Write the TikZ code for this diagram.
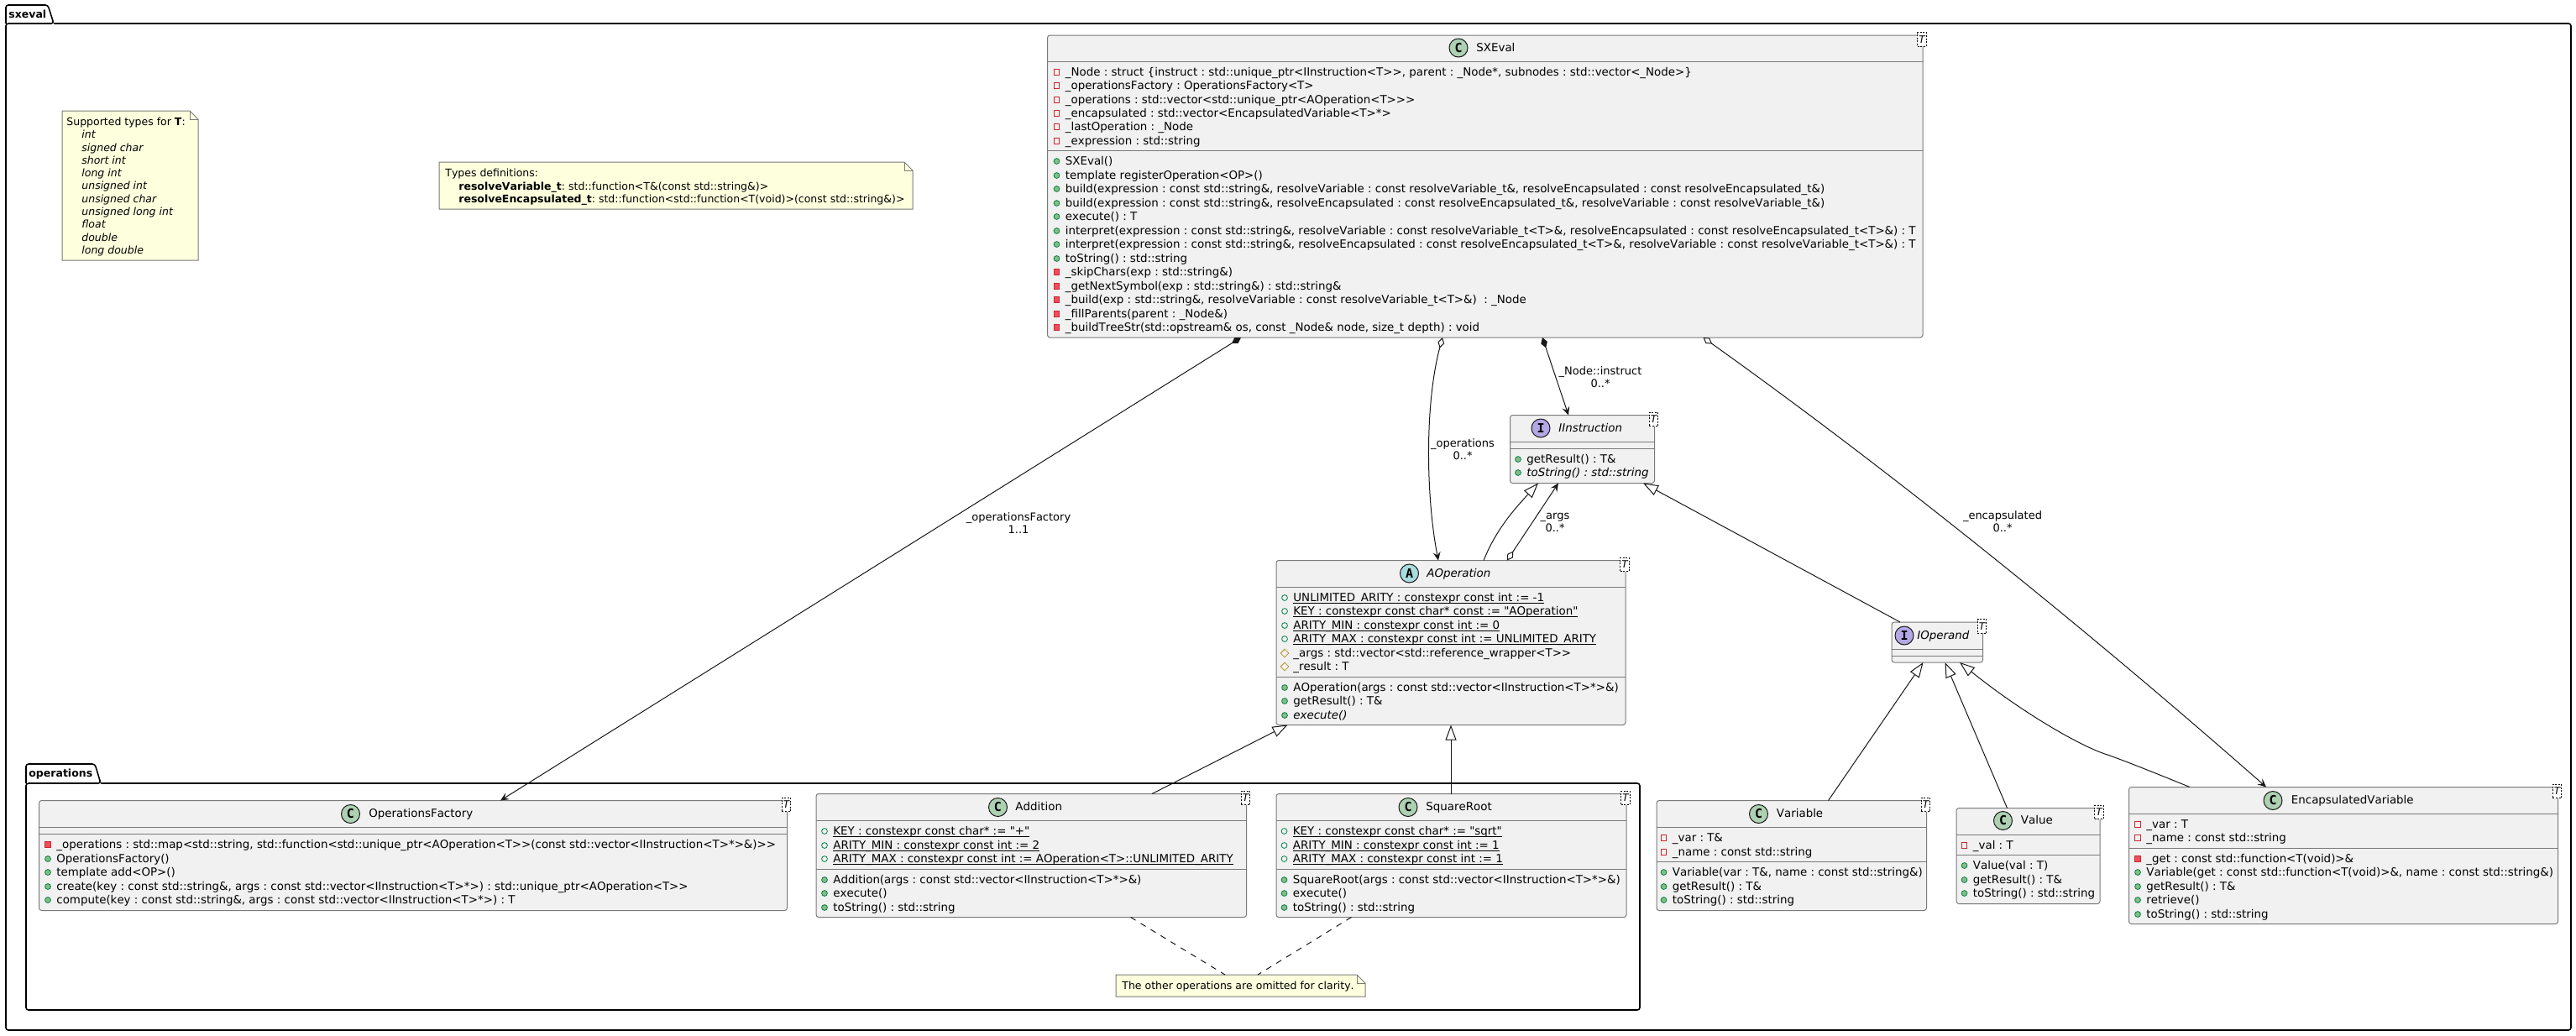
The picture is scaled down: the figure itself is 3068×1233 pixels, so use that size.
\documentclass[tikz,border=0pt]{standalone}
\usepackage{fontspec}
\newfontfamily\umlfont{DejaVu Sans}[Kerning=Off]
\newfontfamily\iconfont{DejaVu Sans Mono}
\usetikzlibrary{arrows.meta,calc,fit,shapes.geometric}

\definecolor{boxfill}{HTML}{F1F1F1}
\definecolor{boxline}{HTML}{7A7A7A}
\definecolor{edgeline}{HTML}{181818}
\definecolor{notefill}{HTML}{FEFFDD}
\definecolor{iconC}{HTML}{ADD1B2}
\definecolor{iconI}{HTML}{B4A7E5}
\definecolor{iconA}{HTML}{A9DCDF}
\definecolor{privline}{HTML}{C82930}
\definecolor{privfill}{HTML}{F24D5C}
\definecolor{publine}{HTML}{038048}
\definecolor{pubfill}{HTML}{84BE84}
\definecolor{protline}{HTML}{B38D22}

\tikzset{
  classbox/.style={draw=boxline,fill=boxfill,line width=.5pt,rounded corners=1.5pt,inner sep=0pt,outer sep=0pt},
  divider/.style={draw=boxline,line width=.5pt},
  tparam/.style={draw=black,fill=white,line width=.4pt,dash pattern=on 1pt off .8pt,minimum width=5.2pt,minimum height=8.2pt,inner sep=0pt,font=\umlfont\itshape\fontsize{6}{7}\selectfont},
  classicon/.style={circle,draw=edgeline,line width=.5pt,minimum size=11pt,inner sep=0pt,font=\iconfont\bfseries\fontsize{7.5}{8}\selectfont},
  titletext/.style={anchor=west,inner sep=0pt,text height=5.5pt,text depth=1.5pt,font=\umlfont\fontsize{6.7}{8}\selectfont\frenchspacing},
  rowtext/.style={anchor=west,inner sep=0pt,text height=5.5pt,text depth=1.5pt,font=\umlfont\fontsize{6.7}{8}\selectfont\frenchspacing},
  notetext/.style={anchor=west,inner sep=0pt,text height=5pt,text depth=1.5pt,font=\umlfont\fontsize{6.25}{7.5}\selectfont\frenchspacing},
  edgelabel/.style={align=center,inner sep=0pt,font=\umlfont\fontsize{6.5}{7.5}\selectfont},
  pkglabel/.style={anchor=west,inner sep=0pt,text height=5.5pt,text depth=1.5pt,font=\umlfont\bfseries\fontsize{6.25}{7}\selectfont},
  pkgline/.style={draw=black,line width=.8pt,rounded corners=1.5pt},
  noteline/.style={draw=boxline,fill=notefill,line width=.5pt},
  privf/.style={rectangle,draw=privline,line width=.4pt,minimum size=3.3pt,inner sep=0pt},
  privm/.style={rectangle,draw=privline,fill=privfill,line width=.4pt,minimum size=3.3pt,inner sep=0pt},
  pubf/.style={circle,draw=publine,line width=.4pt,minimum size=3.4pt,inner sep=0pt},
  pubm/.style={circle,draw=publine,fill=pubfill,line width=.4pt,minimum size=3.4pt,inner sep=0pt},
  protf/.style={diamond,draw=protline,line width=.4pt,minimum size=5pt,inner sep=0pt},
  inherit/.style={draw=edgeline,line width=.5pt,-{Triangle[open,fill=white,length=9pt,width=6.5pt]}},
  compose/.style={draw=edgeline,line width=.5pt,{Diamond[fill=edgeline,length=6.5pt,width=4pt]}-{Stealth[length=5pt,width=4.5pt,inset=2pt]}},
  aggreg/.style={draw=edgeline,line width=.5pt,{Diamond[open,fill=white,length=6.5pt,width=4pt]}-{Stealth[length=5pt,width=4.5pt,inset=2pt]}},
  noteedge/.style={draw=edgeline,line width=.5pt,dash pattern=on 3.5pt off 3.5pt},
}

% caja de clase: nombre, x1, x2, arriba, divisor, divisor, abajo
\newcommand{\umlbox}[7]{
  \node[classbox,fit={(#2,#4) (#3,#7)}] (#1) {};
  \draw[divider] (#2,#5) -- (#3,#5);
  \draw[divider] (#2,#6) -- (#3,#6);
  \node[tparam] (#1-t) at ($(#1.north east)+(-1,5)$) {T};
}
% cabecera: nombre, color, letra, x icono, y, x titulo, titulo
\newcommand{\umlhead}[7]{
  \node[classicon,fill=#2] (#1-icon) at (#4,#5) {#3};
  \node[titletext] (#1-name) at (#6,#5) {#7};
}
% fila: clase, estilo, x, y, texto
\newcommand{\member}[5]{
  \node[#2] (#1-#4-i) at (#3-10,#4) {};
  \node[rowtext] (#1-#4) at (#3,#4) {#5};
}
% subrayado pegado a la linea base
\newcommand{\umlul}[1]{\underline{\smash{#1}}}
% nota: nombre, x1, x2, y1, y2
\newcommand{\umlnote}[5]{
  \draw[noteline] (#2,#4) -- (#3-10,#4) -- (#3,#4+10) -- (#3,#5) -- (#2,#5) -- cycle;
  \draw[noteline,fill=none] (#3-10,#4) -- (#3-10,#4+10) -- (#3,#4+10);
  \node[fit={(#2,#4) (#3,#5)},inner sep=0pt,outer sep=0pt] (#1) {};
}

\begin{document}
\begin{tikzpicture}[x=.5pt,y=-.5pt]
  \useasboundingbox (0,0) rectangle (3068,1233);

  % paquetes
  \draw[pkgline] (7,28) -- (7,6) -- (57,6) -- (64,28) -- (7,28) -- (7,1227) -- (3062,1227) -- (3062,28) -- (64,28);
  \node[pkglabel] (pkg-sxeval) at (10,17) {sxeval};
  \draw[pkgline] (31,933) -- (31,910) -- (113,910) -- (120,933) -- (31,933) -- (31,1203) -- (1953,1203) -- (1953,933) -- (120,933);
  \node[pkglabel] (pkg-operations) at (34,921) {operations};

  % notas
  \umlnote{noteTypes}{74}{236}{132}{310}
  \node[notetext] (noteTypes-0) at (79,146) {Supported types for {\bfseries T}:};
  \node[notetext] (noteTypes-1) at (97,161) {\itshape int};
  \node[notetext] (noteTypes-2) at (97,177) {\itshape signed char};
  \node[notetext] (noteTypes-3) at (97,192) {\itshape short int};
  \node[notetext] (noteTypes-4) at (97,207) {\itshape long int};
  \node[notetext] (noteTypes-5) at (97,222) {\itshape unsigned int};
  \node[notetext] (noteTypes-6) at (97,238) {\itshape unsigned char};
  \node[notetext] (noteTypes-7) at (97,253) {\itshape unsigned long int};
  \node[notetext] (noteTypes-8) at (97,268) {\itshape float};
  \node[notetext] (noteTypes-9) at (97,284) {\itshape double};
  \node[notetext] (noteTypes-10) at (97,299) {\itshape long double};

  \umlnote{noteDefs}{523}{1087}{193}{249}
  \node[notetext] (noteDefs-0) at (530,207) {Types definitions:};
  \node[notetext] (noteDefs-1) at (546,223) {{\bfseries resolveVariable\_t}: std::function<T\&(const std::string\&)>};
  \node[notetext] (noteDefs-2) at (546,238) {{\bfseries resolveEncapsulated\_t}: std::function<std::function<T(void)>(const std::string\&)>};

  \umlnote{noteOmit}{1329}{1626}{1161}{1187}
  \node[notetext] (noteOmit-0) at (1336,1175) {The other operations are omitted for clarity.};

  % SXEval
  \umlbox{sxeval}{1247.5}{2290}{42}{73}{179.5}{402}
  \umlhead{sxeval}{iconC}{C}{1737}{57}{1758}{SXEval}
  \member{sxeval}{privf}{1268.5}{86}{\_Node : struct \{instruct : std::unique\_ptr<IInstruction<T>>, parent : \_Node*, subnodes : std::vector<\_Node>\}}
  \member{sxeval}{privf}{1268.5}{102}{\_operationsFactory : OperationsFactory<T>}
  \member{sxeval}{privf}{1268.5}{119}{\_operations : std::vector<std::unique\_ptr<AOperation<T>>>}
  \member{sxeval}{privf}{1268.5}{135}{\_encapsulated : std::vector<EncapsulatedVariable<T>*>}
  \member{sxeval}{privf}{1268.5}{151}{\_lastOperation : \_Node}
  \member{sxeval}{privf}{1268.5}{168}{\_expression : std::string}
  \member{sxeval}{pubm}{1268.5}{192}{SXEval()}
  \member{sxeval}{pubm}{1268.5}{209}{template registerOperation<OP>()}
  \member{sxeval}{pubm}{1268.5}{225}{build(expression : const std::string\&, resolveVariable : const resolveVariable\_t\&, resolveEncapsulated : const resolveEncapsulated\_t\&)}
  \member{sxeval}{pubm}{1268.5}{242}{build(expression : const std::string\&, resolveEncapsulated : const resolveEncapsulated\_t\&, resolveVariable : const resolveVariable\_t\&)}
  \member{sxeval}{pubm}{1268.5}{258}{execute() : T}
  \member{sxeval}{pubm}{1268.5}{275}{interpret(expression : const std::string\&, resolveVariable : const resolveVariable\_t<T>\&, resolveEncapsulated : const resolveEncapsulated\_t<T>\&) : T}
  \member{sxeval}{pubm}{1268.5}{291}{interpret(expression : const std::string\&, resolveEncapsulated : const resolveEncapsulated\_t<T>\&, resolveVariable : const resolveVariable\_t<T>\&) : T}
  \member{sxeval}{pubm}{1268.5}{308}{toString() : std::string}
  \member{sxeval}{privm}{1268.5}{324}{\_skipChars(exp : std::string\&)}
  \member{sxeval}{privm}{1268.5}{341}{\_getNextSymbol(exp : std::string\&) : std::string\&}
  \member{sxeval}{privm}{1268.5}{357}{\_build(exp : std::string\&, resolveVariable : const resolveVariable\_t<T>\&)\ \ : \_Node}
  \member{sxeval}{privm}{1268.5}{374}{\_fillParents(parent : \_Node\&)}
  \member{sxeval}{privm}{1268.5}{390}{\_buildTreeStr(std::opstream\& os, const \_Node\& node, size\_t depth) : void}

  % IInstruction
  \umlbox{iinstr}{1798.5}{1970.5}{494.5}{526.5}{534.5}{575.5}
  \umlhead{iinstr}{iconI}{I}{1835}{510}{1856}{\itshape IInstruction}
  \member{iinstr}{pubm}{1818}{547}{getResult() : T\&}
  \member{iinstr}{pubm}{1818}{563}{\itshape toString() : std::string}

  % AOperation
  \umlbox{aoper}{1520}{1936}{667.5}{699.5}{806.5}{863.5}
  \umlhead{aoper}{iconA}{A}{1678.5}{683}{1699}{\itshape AOperation}
  \member{aoper}{pubf}{1540}{712}{\umlul{UNLIMITED\_ARITY : constexpr const int := -1}}
  \member{aoper}{pubf}{1540}{728}{\umlul{KEY : constexpr const char* const := "AOperation"}}
  \member{aoper}{pubf}{1540}{745}{\umlul{ARITY\_MIN : constexpr const int := 0}}
  \member{aoper}{pubf}{1540}{761}{\umlul{ARITY\_MAX : constexpr const int := UNLIMITED\_ARITY}}
  \member{aoper}{protf}{1540}{778}{\_args : std::vector<std::reference\_wrapper<T>>}
  \member{aoper}{protf}{1540}{794}{\_result : T}
  \member{aoper}{pubm}{1540}{819}{AOperation(args : const std::vector<IInstruction<T>*>\&)}
  \member{aoper}{pubm}{1540}{835}{getResult() : T\&}
  \member{aoper}{pubm}{1540}{852}{\itshape execute()}

  % IOperand
  \umlbox{ioper}{2253}{2361.5}{741}{773}{781.5}{789}
  \umlhead{ioper}{iconI}{I}{2268}{757}{2283}{\itshape IOperand}

  % OperationsFactory
  \umlbox{factory}{46.5}{937.5}{953.5}{985.5}{993.5}{1084.5}
  \umlhead{factory}{iconC}{C}{417.5}{969.5}{439}{OperationsFactory}
  \member{factory}{privm}{67}{1006}{\_operations : std::map<std::string, std::function<std::unique\_ptr<AOperation<T>>(const std::vector<IInstruction<T>*>\&)>>}
  \member{factory}{pubm}{67}{1023}{OperationsFactory()}
  \member{factory}{pubm}{67}{1039}{template add<OP>()}
  \member{factory}{pubm}{67}{1056}{create(key : const std::string\&, args : const std::vector<IInstruction<T>*>) : std::unique\_ptr<AOperation<T>>}
  \member{factory}{pubm}{67}{1072}{compute(key : const std::string\&, args : const std::vector<IInstruction<T>*>) : T}

  % Addition
  \umlbox{addition}{972}{1484.5}{945.5}{977.5}{1035.5}{1092.5}
  \umlhead{addition}{iconC}{C}{1188.5}{961.5}{1209}{Addition}
  \member{addition}{pubf}{992}{990}{\umlul{KEY : constexpr const char* := "+"}}
  \member{addition}{pubf}{992}{1007}{\umlul{ARITY\_MIN : constexpr const int := 2}}
  \member{addition}{pubf}{992}{1023}{\umlul{ARITY\_MAX : constexpr const int := AOperation<T>::UNLIMITED\_ARITY}}
  \member{addition}{pubm}{992}{1048}{Addition(args : const std::vector<IInstruction<T>*>\&)}
  \member{addition}{pubm}{992}{1064}{execute()}
  \member{addition}{pubm}{992}{1081}{toString() : std::string}

  % SquareRoot
  \umlbox{sqroot}{1520}{1937}{945.5}{977.5}{1035.5}{1092.5}
  \umlhead{sqroot}{iconC}{C}{1677}{961.5}{1698}{SquareRoot}
  \member{sqroot}{pubf}{1539.5}{990}{\umlul{KEY : constexpr const char* := "sqrt"}}
  \member{sqroot}{pubf}{1539.5}{1007}{\umlul{ARITY\_MIN : constexpr const int := 1}}
  \member{sqroot}{pubf}{1539.5}{1023}{\umlul{ARITY\_MAX : constexpr const int := 1}}
  \member{sqroot}{pubm}{1539.5}{1048}{SquareRoot(args : const std::vector<IInstruction<T>*>\&)}
  \member{sqroot}{pubm}{1539.5}{1064}{execute()}
  \member{sqroot}{pubm}{1539.5}{1081}{toString() : std::string}

  % Variable
  \umlbox{variable}{1973}{2294.5}{953.5}{985.5}{1026.5}{1084.5}
  \umlhead{variable}{iconC}{C}{2094.5}{969.5}{2115.5}{Variable}
  \member{variable}{privf}{1991.5}{998}{\_var : T\&}
  \member{variable}{privf}{1991.5}{1015}{\_name : const std::string}
  \member{variable}{pubm}{1991.5}{1039}{Variable(var : T\&, name : const std::string\&)}
  \member{variable}{pubm}{1991.5}{1056}{getResult() : T\&}
  \member{variable}{pubm}{1991.5}{1072}{toString() : std::string}

  % Value
  \umlbox{value}{2330}{2501}{962.5}{994.5}{1018.5}{1076.5}
  \umlhead{value}{iconC}{C}{2385.5}{977.5}{2406.5}{Value}
  \member{value}{privf}{2349.5}{1007}{\_val : T}
  \member{value}{pubm}{2349.5}{1031}{Value(val : T)}
  \member{value}{pubm}{2349.5}{1048}{getResult() : T\&}
  \member{value}{pubm}{2349.5}{1064}{toString() : std::string}

  % EncapsulatedVariable
  \umlbox{encvar}{2535.5}{3046.5}{937.5}{969.5}{1010.5}{1100.5}
  \umlhead{encvar}{iconC}{C}{2707}{953.5}{2728.5}{EncapsulatedVariable}
  \member{encvar}{privf}{2556}{982}{\_var : T}
  \member{encvar}{privf}{2556}{998}{\_name : const std::string}
  \member{encvar}{privm}{2556}{1023}{\_get : const std::function<T(void)>\&}
  \member{encvar}{pubm}{2556}{1039}{Variable(get : const std::function<T(void)>\&, name : const std::string\&)}
  \member{encvar}{pubm}{2556}{1056}{getResult() : T\&}
  \member{encvar}{pubm}{2556}{1072}{retrieve()}
  \member{encvar}{pubm}{2556}{1089}{toString() : std::string}

  % relaciones de SXEval
  \draw[compose] (1478,0 |- sxeval.south) -- (596,0 |- factory.north);
  \draw[aggreg] (1718,0 |- sxeval.south) .. controls (1697,480) and (1698,590) .. (1713,0 |- aoper.north);
  \draw[compose] (1837,0 |- sxeval.south) -- (1868,0 |- iinstr.north);
  \draw[aggreg] (2028.5,0 |- sxeval.south) .. controls (2250,560) and (2480,745) .. (2699,0 |- encvar.north);
  \node[edgelabel] (lbl-factory) at (1213,623) {\_operationsFactory\\1..1};
  \node[edgelabel] (lbl-operations) at (1742,535) {\_operations\\0..*};
  \node[edgelabel] (lbl-instruct) at (1906,449) {\_Node::instruct\\0..*};
  \node[edgelabel] (lbl-encaps) at (2385,621) {\_encapsulated\\0..*};

  % herencia
  \draw[inherit] (1767,0 |- aoper.north) .. controls (1782,630) and (1805,605) .. (1832,0 |- iinstr.south);
  \draw[aggreg] (1795,0 |- aoper.north) -- (1856,0 |- iinstr.south);
  \node[edgelabel] (lbl-args) at (1852,622) {\_args\\0..*};
  \draw[inherit] (2263,0 |- ioper.north) -- (1957,0 |- iinstr.south);
  \draw[inherit] (1372,0 |- addition.north) -- (1533.5,0 |- aoper.south);
  \draw[inherit] (1728,0 |- sqroot.north) -- (1728,0 |- aoper.south);
  \draw[inherit] (2177.5,0 |- variable.north) -- (2290.5,0 |- ioper.south);
  \draw[inherit] (2390.5,0 |- value.north) -- (2316.5,0 |- ioper.south);
  \draw[inherit] (2608,0 |- encvar.north) .. controls (2570,922) and (2530,906) .. (2510,899) .. controls (2480,890) and (2410,850) .. (2334,0 |- ioper.south);

  % enlaces de la nota
  \draw[noteedge] (1346.5,0 |- addition.south) -- (1459,0 |- noteOmit.north);
  \draw[noteedge] (1609.5,0 |- sqroot.south) -- (1498,0 |- noteOmit.north);
\end{tikzpicture}
\end{document}
